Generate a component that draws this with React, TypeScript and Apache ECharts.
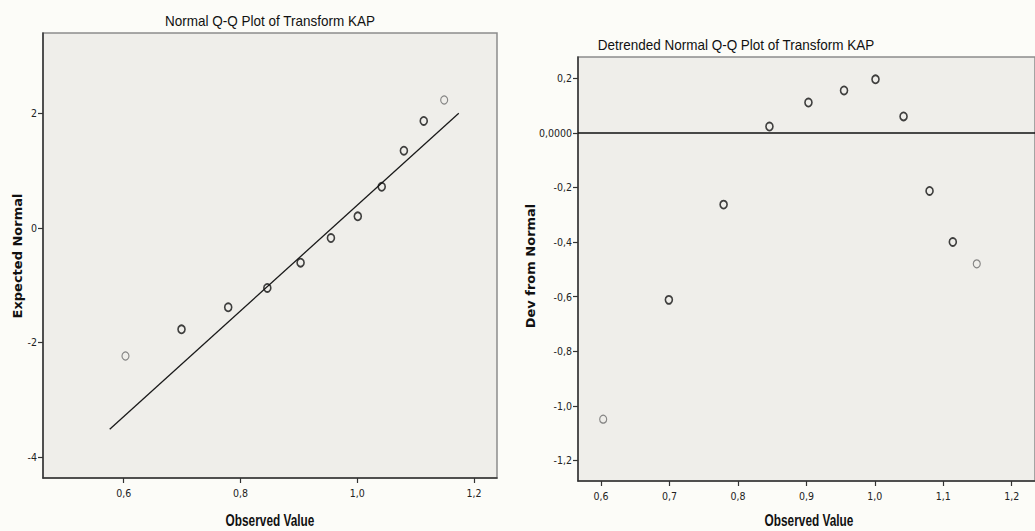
import React, { useEffect, useRef } from "react";
import * as echarts from "echarts";

// ---- data ----
const observedValue = [0.603, 0.699, 0.779, 0.846, 0.903, 0.955, 1.001, 1.042, 1.080, 1.114, 1.149];
const expectedNormal = [-2.236, -1.77, -1.385, -1.048, -0.606, -0.175, 0.204, 0.72, 1.35, 1.869, 2.236];
const devFromNormal = [-1.049, -0.612, -0.263, 0.023, 0.111, 0.155, 0.196, 0.06, -0.213, -0.4, -0.48];
const normalLineX = [0.576, 1.174];
const normalLineY = [-3.516, 2.003];
const xTicksLeft = [0.6, 0.8, 1.0, 1.2];
const yTicksLeft = [-4, -2, 0, 2];
const xTicksRight = [0.6, 0.7, 0.8, 0.9, 1.0, 1.1, 1.2];
const yTicksRight = [0.2, 0, -0.2, -0.4, -0.6, -0.8, -1.0, -1.2];
const lighterLeft = [0, 10];
const lighterRight = [0, 10];

const NARROW = '"DejaVu Sans Condensed", "Arial Narrow", sans-serif';
const ARIAL = '"Liberation Sans", Arial, sans-serif';
const WIDE = '"DejaVu Sans", Arial, sans-serif';
const PLOT_BG = "#efeeea";
const PAGE_BG = "#fcfcf8";

const comma = (v: number) => v.toFixed(1).replace(".", ",");

function points(xs: number[], ys: number[], lighter: number[]) {
  return xs.map((x, i) => {
    const light = lighter.includes(i);
    return {
      value: [x, ys[i]],
      itemStyle: {
        color: "rgba(0,0,0,0)",
        borderColor: light ? "#6a6a6a" : "#111",
        borderWidth: light ? 1.2 : 1.7,
      },
    };
  });
}

export default function App() {
  const ref = useRef<HTMLDivElement>(null);
  useEffect(() => {
    document.body.style.margin = "0";
    document.body.style.background = PAGE_BG;
    const chart = echarts.init(ref.current!, null, { renderer: "svg" });
    const axisLabelBase = { fontFamily: NARROW, fontSize: 10.5, color: "#222" };
    const tick = { show: true, length: 5, lineStyle: { color: "#333", width: 1.2 } };
    const titleStyle = { fontFamily: ARIAL, fontSize: 15, fill: "#111", align: "center", verticalAlign: "middle" };
    const nameStyle = { fontFamily: ARIAL, fontWeight: "bold", fontSize: 16, fill: "#111", align: "center", verticalAlign: "middle" };
    const yNameStyle = { fontFamily: WIDE, fontWeight: "bold", fontSize: 13, fill: "#111", align: "center", verticalAlign: "middle" };
    chart.setOption({
      animation: false,
      backgroundColor: PAGE_BG,
      grid: [
        {
          left: 43, top: 33, width: 454, height: 445,
          show: true, backgroundColor: PLOT_BG, borderColor: "#8c8c8c", borderWidth: 1.5,
        },
        {
          left: 578, top: 57, width: 462, height: 424,
          show: true, backgroundColor: PLOT_BG, borderColor: "#8c8c8c", borderWidth: 1.5,
        },
      ],
      xAxis: [
        {
          type: "value", gridIndex: 0, min: 0.4617, max: 1.2395,
          splitLine: { show: false },
          axisLine: { onZero: false, lineStyle: { color: "#333", width: 1.5 } },
          axisTick: { ...tick, customValues: xTicksLeft },
          axisLabel: { ...axisLabelBase, margin: 9, customValues: xTicksLeft, formatter: comma },
        },
        {
          type: "value", gridIndex: 1, min: 0.5662, max: 1.2341,
          splitLine: { show: false },
          axisLine: { onZero: false, lineStyle: { color: "#333", width: 1.5 } },
          axisTick: { ...tick, customValues: xTicksRight },
          axisLabel: { ...axisLabelBase, margin: 9, customValues: xTicksRight, formatter: comma },
        },
      ],
      yAxis: [
        {
          type: "value", gridIndex: 0, min: -4.367, max: 3.406,
          splitLine: { show: false },
          axisLine: { show: true, onZero: false, lineStyle: { color: "#333", width: 1.5 } },
          axisTick: { ...tick, customValues: yTicksLeft },
          axisLabel: { ...axisLabelBase, margin: 6, customValues: yTicksLeft, formatter: (v: number) => String(v) },
        },
        {
          type: "value", gridIndex: 1, min: -1.2755, max: 0.2777,
          splitLine: { show: false },
          axisLine: { show: true, onZero: false, lineStyle: { color: "#333", width: 1.5 } },
          axisTick: { ...tick, customValues: yTicksRight },
          axisLabel: {
            ...axisLabelBase, margin: 6, customValues: yTicksRight,
            formatter: (v: number) => (Math.abs(v) < 1e-9 ? "0,0000" : comma(v)),
          },
        },
      ],
      series: [
        {
          type: "line", xAxisIndex: 0, yAxisIndex: 0,
          data: normalLineX.map((x, i) => [x, normalLineY[i]]),
          showSymbol: false, symbol: "none",
          lineStyle: { color: "#1a1a1a", width: 1.3 },
          silent: true, z: 2,
        },
        {
          type: "scatter", xAxisIndex: 0, yAxisIndex: 0,
          symbol: "circle", symbolSize: [7, 8],
          data: points(observedValue, expectedNormal, lighterLeft), z: 3,
        },
        {
          type: "scatter", xAxisIndex: 1, yAxisIndex: 1,
          symbol: "circle", symbolSize: [7, 8],
          data: points(observedValue, devFromNormal, lighterRight), z: 3,
          markLine: {
            silent: true, symbol: "none", label: { show: false },
            lineStyle: { color: "#111", width: 1.5, type: "solid" },
            data: [{ yAxis: 0 }],
          },
        },
      ],
      graphic: [
        {
          type: "text", x: 270, y: 21, scaleX: 0.9,
          style: { text: "Normal Q-Q Plot of Transform KAP", ...titleStyle },
        },
        {
          type: "text", x: 736, y: 45, scaleX: 0.9,
          style: { text: "Detrended Normal Q-Q Plot of Transform KAP", ...titleStyle },
        },
        {
          type: "text", x: 270, y: 520, scaleX: 0.74,
          style: { text: "Observed Value", ...nameStyle },
        },
        {
          type: "text", x: 809, y: 520, scaleX: 0.74,
          style: { text: "Observed Value", ...nameStyle },
        },
        {
          type: "text", x: 17, y: 256, rotation: Math.PI / 2,
          style: { text: "Expected Normal", ...yNameStyle },
        },
        {
          type: "text", x: 530, y: 266, rotation: Math.PI / 2,
          style: { text: "Dev from Normal", ...yNameStyle },
        },
      ],
    });
    return () => chart.dispose();
  }, []);
  return <div ref={ref} style={{ width: 1035, height: 531 }} />;
}
